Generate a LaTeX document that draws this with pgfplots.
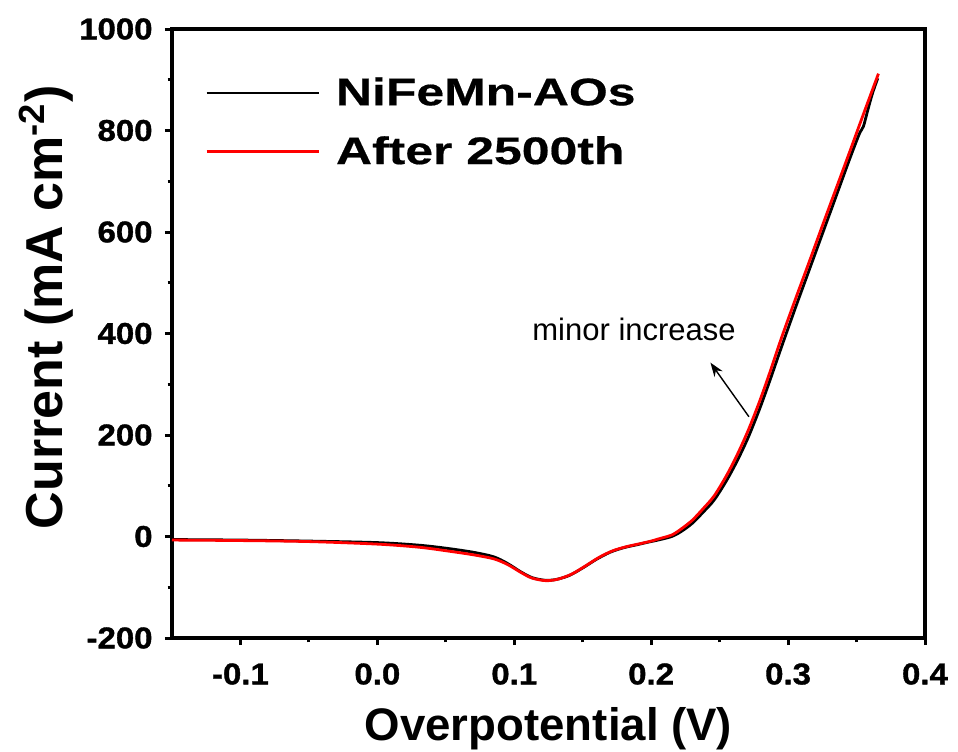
\documentclass[border=0pt]{standalone}
\usepackage{pgfplots}
\pgfplotsset{compat=1.18}
\usepackage{fontspec}
\setmainfont{Liberation Sans}
\newfontfamily\tickfont{Liberation Sans}[FakeStretch=1.1, FakeBold=1.2]
\newfontfamily\legfont{Liberation Sans}[FakeStretch=1.3, FakeBold=0.5]
\usetikzlibrary{arrows.meta}

\pgfplotstableread{
x y
-0.150 -6
-0.100 -7
-0.050 -9
0.000 -12
0.030 -17
0.050 -23
0.070 -31
0.085 -40
0.095 -53
0.105 -70
0.113 -81
0.122 -86
0.130 -85
0.140 -77
0.150 -62
0.160 -45
0.170 -31
0.180 -22
0.190 -16
0.198 -11
0.205 -7
0.215 0
0.222 10
0.230 26
0.238 48
0.246 72
0.255 110
0.263 150
0.271 196
0.279 250
0.286 302
0.295 372
0.305 448
0.315 522
0.325 596
0.335 670
0.345 744
0.352 793
0.355 808
0.358 838
0.3615 872
0.3655 903
}\blackdata

\pgfplotstableread{
x y
-0.150 -7
-0.100 -8
-0.050 -10
0.000 -15
0.030 -21
0.050 -28
0.070 -36
0.085 -44
0.095 -55
0.105 -71
0.113 -82
0.123 -87
0.132 -84
0.142 -74
0.152 -58
0.162 -41
0.172 -28
0.182 -20
0.192 -14
0.200 -9
0.205 -5
0.215 3
0.222 15
0.230 32
0.238 55
0.246 80
0.255 120
0.263 162
0.271 210
0.279 265
0.286 318
0.295 390
0.305 465
0.315 538
0.325 612
0.335 685
0.345 758
0.355 832
0.366 912
}\reddata

\begin{document}
\begin{tikzpicture}
\begin{axis}[
  at={(0,0)}, anchor=south west,
  scale only axis, width=376.5pt, height=304.5pt,
  xmin=-0.15, xmax=0.4, ymin=-200, ymax=1000,
  xtick={-0.1,0,0.1,0.2,0.3,0.4},
  ytick={-200,0,200,400,600,800,1000},
  minor x tick num=1, minor y tick num=1,
  tick align=outside, xtick pos=bottom, ytick pos=left,
  major tick length=3.5pt, minor tick length=2.2pt,
  every tick/.style={black, line width=1.5pt},
  axis line style={line width=2pt},
  scaled ticks=false,
  /pgf/number format/assume math mode=true,
  xticklabel style={font=\tickfont\bfseries\fontsize{15}{15}\selectfont, inner sep=0pt,
    /pgf/number format/.cd, fixed, fixed zerofill, precision=1},
  yticklabel style={font=\tickfont\bfseries\fontsize{15}{15}\selectfont, inner sep=0pt,
    /pgf/number format/.cd, fixed, 1000 sep={}},
  xticklabel shift=9pt,
  yticklabel shift=6pt,
  xlabel={Overpotential (V)},
  ylabel={Current (mA cm\textsuperscript{-2})},
  xlabel style={font=\bfseries\fontsize{22.8}{22.8}\selectfont, at={(axis description cs:0.5,-0.1675)}, anchor=base, inner sep=0pt},
  ylabel style={font=\bfseries\fontsize{26}{26}\selectfont, at={(axis description cs:-0.1448,0.543)}, anchor=base, inner sep=0pt},
  legend style={draw=none, fill=none, at={(rel axis cs:0,1)}, anchor=north west,
    xshift=16.5pt, yshift=-24pt, inner sep=0pt, column sep=8pt, row sep=14pt,
    nodes={inner sep=0pt}, font=\legfont\bfseries\fontsize{19.2}{19.2}\selectfont},
  legend cell align=left,
  legend image code/.code={\draw[#1, line width=1.3pt] (0pt,0pt) -- (56pt,0pt);},
]
\addplot[black, line width=1.4pt, smooth] table[x=x,y=y] {\blackdata};
\addlegendentry{NiFeMn-AOs}
\addplot[red, line width=1.4pt, smooth] table[x=x,y=y] {\reddata};
\addlegendentry{After 2500th}
\node[anchor=base, font=\fontsize{15.5}{15.5}\selectfont, inner sep=0pt] at (axis cs:0.1875,387) {minor increase};
\draw[line width=0.7pt, -{Stealth[length=7pt,width=5pt]}] (axis cs:0.2714,236) -- (axis cs:0.2433,342.5);
\end{axis}
\pgfresetboundingbox
\path[use as bounding box] (-86pt,-56.5pt) rectangle (393pt,319pt);
\end{tikzpicture}
\end{document}
